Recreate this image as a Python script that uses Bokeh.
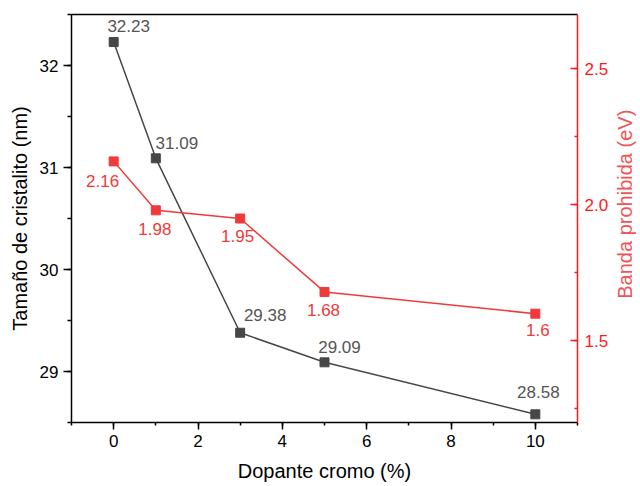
import math
from bokeh.plotting import figure
from bokeh.layouts import row
from bokeh.models import (Range1d, LinearAxis, SingleIntervalTicker, FixedTicker,
                          ColumnDataSource, PrintfTickFormatter, Label)
from bokeh.core.properties import value
from bokeh.embed import file_html
from bokeh.resources import INLINE

# ---- data ----
dopante = [0, 1, 3, 5, 10]
tamano = [32.23, 31.09, 29.38, 29.09, 28.58]
banda = [2.16, 1.98, 1.95, 1.68, 1.6]
tamano_labels = ["32.23", "31.09", "29.38", "29.09", "28.58"]
banda_labels = ["2.16", "1.98", "1.95", "1.68", "1.6"]

# label offsets (screen px, y down)
tamano_dx = [15, 21, 25, 15, 3]
tamano_dy = [-16, -15.5, -17.5, -15.5, -22.5]
banda_dx = [-11, -1, -2.5, -1, 2.5]
banda_dy = [19.5, 18.5, 17, 18, 16]

X0, X1 = -1, 11
Y0, Y1 = 28.5, 32.5
R0, R1 = 1.2, 2.7

FONT = "Liberation Sans"
GRAY = "#474747"
GRAY_TXT = "#555555"
RED = "#f03a3a"
RED_AX = "#ff1a1a"
RED_TITLE = "#f05555"

p = figure(width=612, height=486, output_backend="svg", toolbar_location=None,
           x_range=Range1d(X0, X1), y_range=Range1d(Y0, Y1),
           x_axis_type=None, y_axis_type=None,
           min_border_left=71, min_border_right=35, min_border_top=14, min_border_bottom=64)
p.extra_y_ranges = {"r": Range1d(R0, R1)}
p.outline_line_color = None
p.background_fill_color = "white"
p.border_fill_color = "white"


def style(ax, color="black", lab_color="black", title_color="black"):
    ax.axis_line_color = color
    ax.axis_line_width = 1.5
    ax.major_tick_line_color = color
    ax.minor_tick_line_color = color
    ax.major_tick_line_width = 1.5
    ax.minor_tick_line_width = 1.5
    ax.major_label_text_font = FONT
    ax.major_label_text_font_size = "17px"
    ax.major_label_text_color = lab_color
    ax.axis_label_text_font = FONT
    ax.axis_label_text_font_size = "20px"
    ax.axis_label_text_font_style = "normal"
    ax.axis_label_text_color = title_color


xaxis = LinearAxis(ticker=SingleIntervalTicker(interval=2, num_minor_ticks=2),
                   axis_label="Dopante cromo (%)")
style(xaxis)
xaxis.major_tick_in = 0
xaxis.major_tick_out = 7
xaxis.minor_tick_in = 0
xaxis.minor_tick_out = 3
xaxis.major_label_standoff = 5
xaxis.axis_label_standoff = 10
p.add_layout(xaxis, "below")

yaxis = LinearAxis(ticker=SingleIntervalTicker(interval=1, num_minor_ticks=2),
                   axis_label="Tamaño de cristalito (nm)")
style(yaxis)
yaxis.major_tick_in = 0
yaxis.major_tick_out = 8
yaxis.minor_tick_in = 0
yaxis.minor_tick_out = 4
yaxis.major_label_standoff = 5
yaxis.axis_label_standoff = 6
p.add_layout(yaxis, "left")

raxis = LinearAxis(y_range_name="r", ticker=SingleIntervalTicker(interval=0.5, num_minor_ticks=2),
                   formatter=PrintfTickFormatter(format="%.1f"))
style(raxis, RED_AX, RED_AX, RED_TITLE)
raxis.major_tick_in = 7
raxis.major_tick_out = 0
raxis.minor_tick_in = 3
raxis.minor_tick_out = 0
raxis.major_label_standoff = 7
p.add_layout(raxis, "right")

taxis = LinearAxis(ticker=FixedTicker(ticks=[]))
taxis.axis_line_color = "black"
taxis.axis_line_width = 1.5
taxis.major_tick_in = 0
taxis.major_tick_out = 0
taxis.minor_tick_in = 0
taxis.minor_tick_out = 0
p.add_layout(taxis, "above")

src_t = ColumnDataSource(dict(x=dopante, y=tamano, t=tamano_labels, dx=tamano_dx, dy=tamano_dy))
src_b = ColumnDataSource(dict(x=dopante, y=banda, t=banda_labels, dx=banda_dx, dy=banda_dy))

p.line("x", "y", source=src_t, line_color=GRAY, line_width=1.5)
p.scatter("x", "y", source=src_t, marker="square", size=9, fill_color=GRAY, line_color=GRAY)

p.line("x", "y", source=src_b, line_color=RED, line_width=1.5, y_range_name="r")
p.scatter("x", "y", source=src_b, marker="square", size=9, fill_color=RED, line_color=RED,
          y_range_name="r")

p.text("x", "y", text="t", source=src_t, x_offset="dx", y_offset="dy",
       text_align="center", text_baseline="middle",
       text_font=value(FONT), text_font_size=value("17px"), text_color=GRAY_TXT)
p.text("x", "y", text="t", source=src_b, x_offset="dx", y_offset="dy",
       text_align="center", text_baseline="middle",
       text_font=value(FONT), text_font_size=value("17px"), text_color=RED,
       y_range_name="r")

# narrow strip that carries the right-hand axis title (reads bottom-to-top)
t = figure(width=28, height=486, output_backend="svg", toolbar_location=None,
           x_range=Range1d(0, 1), y_range=Range1d(0, 1),
           x_axis_type=None, y_axis_type=None, min_border=0)
t.outline_line_color = None
t.background_fill_color = "white"
t.border_fill_color = "white"
t.add_layout(Label(x=0.45, y=0.535, text="Banda prohibida (eV)", angle=math.pi / 2,
                   text_align="center", text_baseline="middle",
                   text_font=FONT, text_font_size="20px", text_color=RED_TITLE))

layout = row(p, t, spacing=0)
open("out.html", "w").write(file_html(layout, INLINE))
